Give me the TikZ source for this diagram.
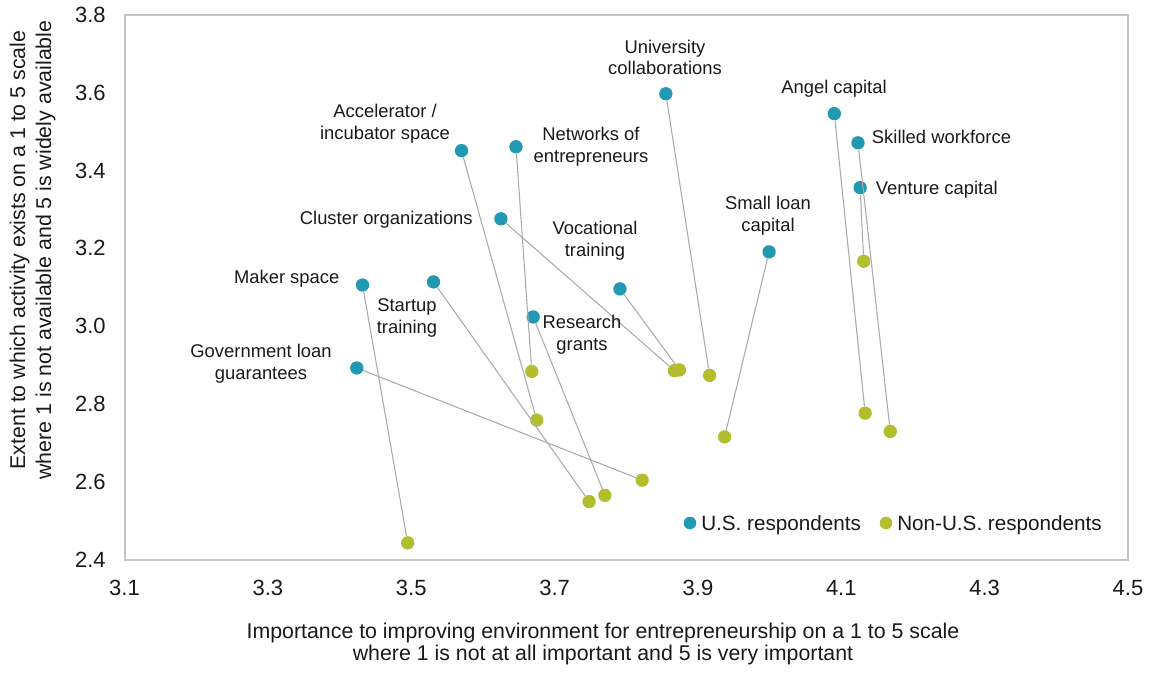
\documentclass[tikz,border=0pt]{standalone}
\usepackage{fontspec}
\setmainfont{Liberation Sans}
\definecolor{us}{HTML}{2199B2}
\definecolor{nonus}{HTML}{B4BD2E}
\definecolor{framegray}{HTML}{C4C4C4}
\definecolor{conn}{HTML}{ABABAB}
\definecolor{txt}{HTML}{1A1A1A}
\begin{document}
\begin{tikzpicture}[x=0.75pt,y=0.75pt,
  usdot/.style={circle,fill=us,inner sep=0pt,minimum size=10pt},
  nudot/.style={circle,fill=nonus,inner sep=0pt,minimum size=10pt},
  link/.style={draw=conn,line width=0.8pt},
  lbl/.style={font=\fontsize{13.8}{16.3}\selectfont,text=txt,align=center,inner sep=0pt},
  ticklbl/.style={font=\fontsize{16.5}{19}\selectfont,text=txt,inner sep=0pt},
  axtitle/.style={font=\fontsize{16}{16.8}\selectfont,text=txt,align=center,inner sep=0pt},
  leglbl/.style={font=\fontsize{15.5}{18}\selectfont,text=txt,inner sep=0pt}]
\useasboundingbox (0,0) rectangle (1150,673);
\fill[white] (0,0) rectangle (1150,673);
% plot frame
\draw[framegray,line width=1.5pt] (124.5,113) rectangle (1128,658.3);
% x tick labels
\foreach \v [count=\i from 0] in {3.1,3.3,3.5,3.7,3.9,4.1,4.3,4.5}
  \node[ticklbl] (xt\i) at (124.5+\i*143.36,85) {\v};
% y tick labels
\foreach \v [count=\i from 0] in {2.4,2.6,2.8,3.0,3.2,3.4,3.6,3.8}
  \node[ticklbl,anchor=east] (yt\i) at (106,113+\i*77.9) {\v};
% axis titles
\node[axtitle] (xtitle) at (603,29) {Importance to improving environment for entrepreneurship on a 1 to 5 scale\\where 1 is not at all important and 5 is very important};
\node[axtitle,font=\fontsize{16}{19.5}\selectfont,rotate=90] (ytitle) at (32.5,423) {Extent to which activity exists on a 1 to 5 scale\\where 1 is not available and 5 is widely available};
% data
\begin{scope}[shift={(124.5,113)},x=537.75pt,y=292.125pt,shift={(-3.1,-2.4)}]
  % U.S. respondents
  \node[usdot] (uni) at (3.855,3.597) {};
  \node[usdot] (ang) at (4.090,3.546) {};
  \node[usdot] (skw) at (4.123,3.471) {};
  \node[usdot] (ven) at (4.126,3.356) {};
  \node[usdot] (slc) at (3.999,3.191) {};
  \node[usdot] (voc) at (3.791,3.096) {};
  \node[usdot] (acc) at (3.570,3.451) {};
  \node[usdot] (net) at (3.646,3.461) {};
  \node[usdot] (clu) at (3.625,3.276) {};
  \node[usdot] (mak) at (3.432,3.106) {};
  \node[usdot] (sta) at (3.531,3.114) {};
  \node[usdot] (res) at (3.670,3.024) {};
  \node[usdot] (gov) at (3.424,2.893) {};
  % Non-U.S. respondents
  \node[nudot] (netN) at (3.668,2.884) {};
  \node[nudot] (accN) at (3.675,2.759) {};
  \node[nudot] (staN) at (3.748,2.550) {};
  \node[nudot] (resN) at (3.770,2.566) {};
  \node[nudot] (govN) at (3.822,2.605) {};
  \node[nudot] (cluN) at (3.867,2.886) {};
  \node[nudot] (vocN) at (3.874,2.888) {};
  \node[nudot] (uniN) at (3.916,2.874) {};
  \node[nudot] (slcN) at (3.937,2.716) {};
  \node[nudot] (angN) at (4.133,2.777) {};
  \node[nudot] (skwN) at (4.168,2.730) {};
  \node[nudot] (makN) at (3.495,2.444) {};
  \node[nudot] (venN) at (4.131,3.167) {};
  % connectors
  \draw[link] (acc) -- (accN);
  \draw[link] (net) -- (netN);
  \draw[link] (res) -- (resN);
  \draw[link] (sta) -- (staN);
  \draw[link] (mak) -- (makN);
  \draw[link] (gov) -- (govN);
  \draw[link] (clu) -- (cluN);
  \draw[link] (voc) -- (vocN);
  \draw[link] (uni) -- (uniN);
  \draw[link] (slc) -- (slcN);
  \draw[link] (ang) -- (angN);
  \draw[link] (skw) -- (skwN);
  \draw[link] (ven) -- (venN);
\end{scope}
% data labels
\node[lbl] (luni) at (665,615.5) {University\\collaborations};
\node[lbl] (lang) at (834,584) {Angel capital};
\node[lbl,anchor=west] (lskw) at (871.7,536.3) {Skilled workforce};
\node[lbl,anchor=west] (lven) at (875.7,483) {Venture capital};
\node[lbl] (lslc) at (768,457) {Small loan\\capital};
\node[lbl] (lvoc) at (595,432) {Vocational\\training};
\node[lbl] (lacc) at (385,549) {Accelerator /\\incubator space};
\node[lbl] (lnet) at (591,526) {Networks of\\entrepreneurs};
\node[lbl] (lclu) at (386.3,453.7) {Cluster organizations};
\node[lbl] (lmak) at (286.7,394) {Maker space};
\node[lbl] (lsta) at (407,355) {Startup\\training};
\node[lbl] (lres) at (582,338) {Research\\grants};
\node[lbl] (lgov) at (261,309) {Government loan\\guarantees};
% legend
\node[circle,fill=us,inner sep=0pt,minimum size=9.4pt] (legus) at (690,150) {};
\node[leglbl,anchor=base west] (legustxt) at (701,142.6) {U.S. respondents};
\node[circle,fill=nonus,inner sep=0pt,minimum size=9.4pt] (legnu) at (886,150) {};
\node[leglbl,anchor=base west] (legnutxt) at (897,142.6) {Non-U.S. respondents};
\end{tikzpicture}
\end{document}
